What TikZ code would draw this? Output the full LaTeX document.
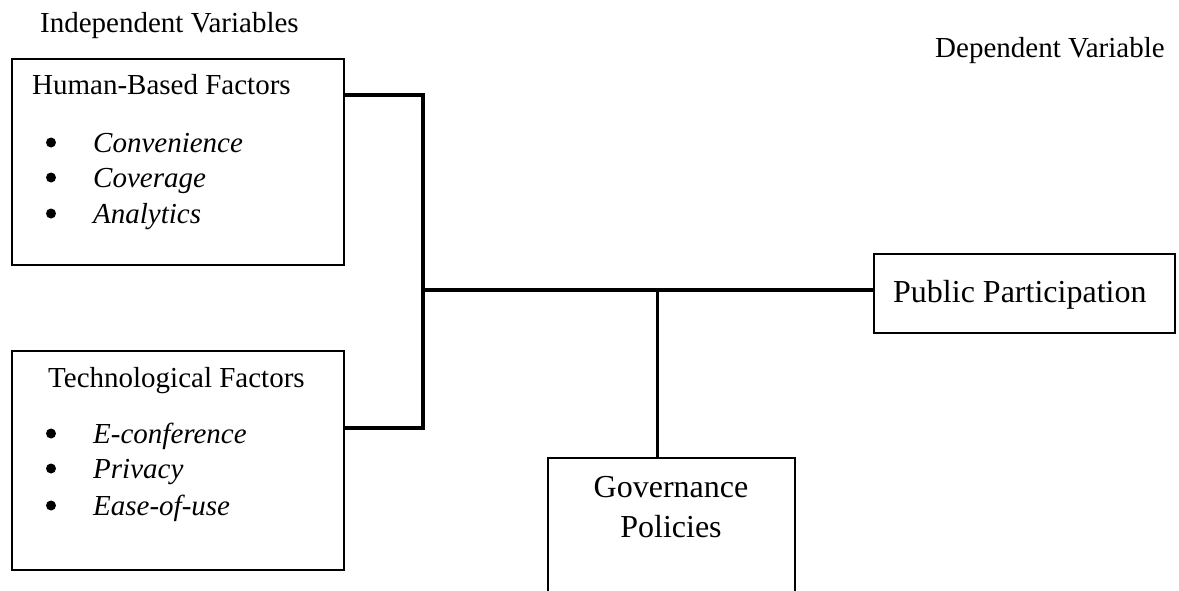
\documentclass[tikz,border=0pt]{standalone}
\usepackage{fontspec}
\setmainfont{Liberation Serif}
\begin{document}
\begin{tikzpicture}[x=1pt,y=-1pt,
  box/.style={draw=black,line width=1.6pt,rectangle,anchor=north west,inner sep=0pt},
  conn/.style={draw=black,line width=3.2pt},
  txt/.style={anchor=base west,inner sep=0pt,font=\fontsize{29}{34}\selectfont},
  bigtxt/.style={anchor=base,inner sep=0pt,font=\fontsize{32}{38}\selectfont},
  item/.style={txt,font=\fontsize{29}{34}\selectfont\itshape},
  dot/.style={circle,fill=black,inner sep=0pt,minimum size=10pt}]
\useasboundingbox (0,0) rectangle (1179,590);
\clip (0,0) rectangle (1179,590);

% headings
\node[txt] (indep) at (40,32) {Independent Variables};
\node[txt] (dep) at (935,57) {Dependent Variable};

% independent variable boxes
\node[box,minimum width=332pt,minimum height=206pt] (hum) at (11,58) {};
\node[box,minimum width=332pt,minimum height=219pt] (tech) at (11,350) {};

% dependent variable and moderating boxes
\node[box,minimum width=301pt,minimum height=79pt] (pub) at (873,253) {};
\node[box,minimum width=247pt,minimum height=170pt] (gov) at (547,457) {};

% human-based factors
\node[txt] (humtitle) at (32,94) {Human-Based Factors};
\node[dot] (b1) at (51,142.5) {};
\node[item] (h1) at (93,152) {Convenience};
\node[dot] (b2) at (51,177.5) {};
\node[item] (h2) at (93,187) {Coverage};
\node[dot] (b3) at (51,213.5) {};
\node[item] (h3) at (93,223) {Analytics};

% technological factors
\node[txt] (techtitle) at (48,387) {Technological Factors};
\node[dot] (b4) at (51,433.5) {};
\node[item] (t1) at (93,443) {E-conference};
\node[dot] (b5) at (51,468.5) {};
\node[item] (t2) at (93,478) {Privacy};
\node[dot] (b6) at (51,505.5) {};
\node[item] (t3) at (93,515) {Ease-of-use};

% labels of the right-hand boxes
\node[txt,font=\fontsize{32}{38}\selectfont] (pubtxt) at (893,302) {Public Participation};
\node[bigtxt] (gov1) at (671,497) {Governance};
\node[bigtxt] (gov2) at (671,537) {Policies};

% connectors
\coordinate (junc) at (423,290);
\draw[conn] ([yshift=-37pt]hum.north east) -| (junc) |- ([yshift=-78pt]tech.north east);
\draw[conn] (junc) -- (junc -| pub.west);
\draw[conn] ([xshift=-13.5pt]gov.north) -- ([xshift=-13.5pt]gov.north |- junc);
\end{tikzpicture}
\end{document}
